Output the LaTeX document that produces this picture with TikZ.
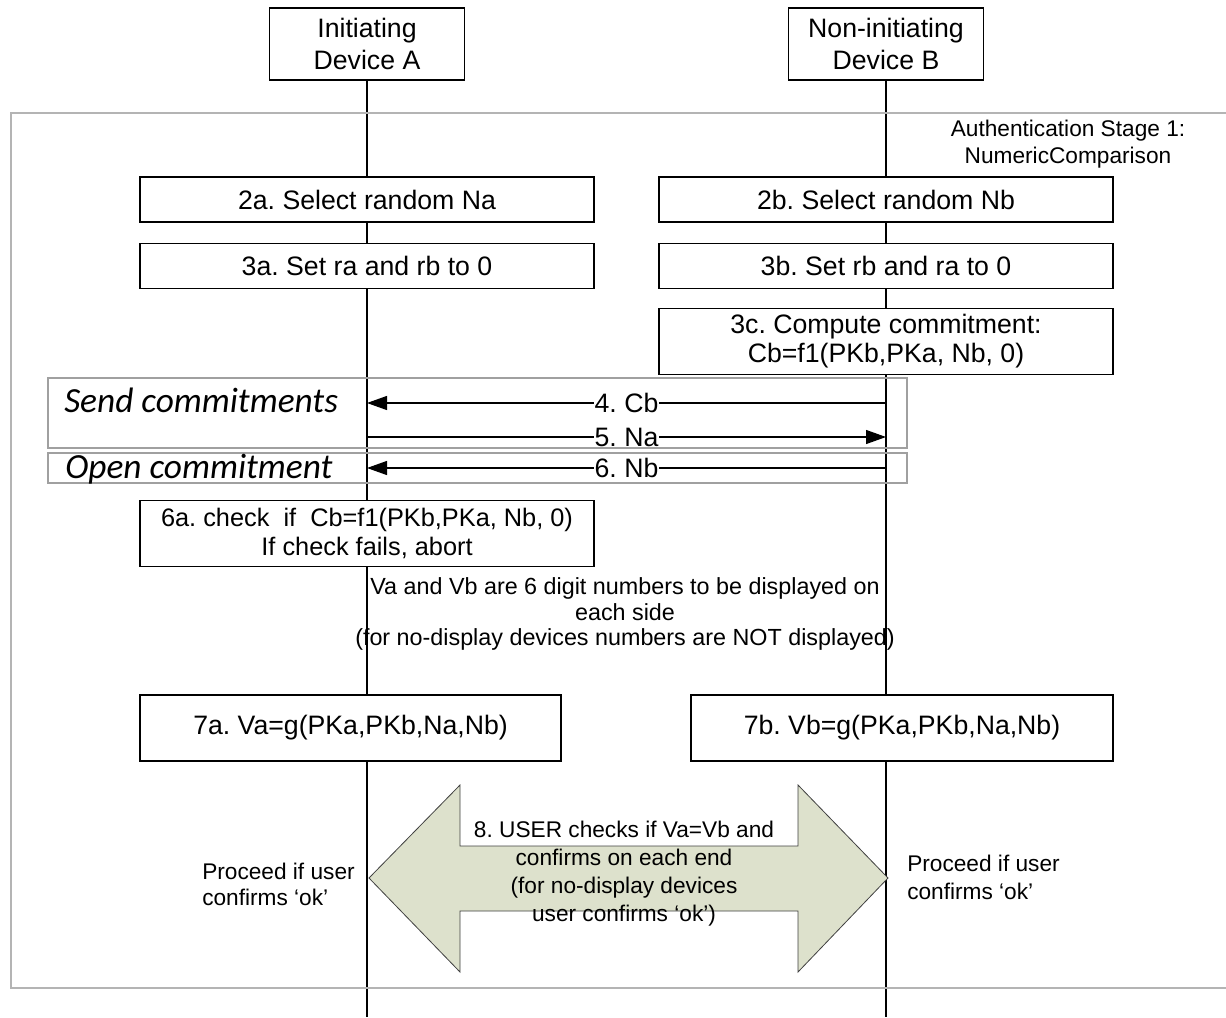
\documentclass[tikz,border=0pt]{standalone}
\usepackage{fontspec}
\setmainfont{Liberation Sans}
\newfontfamily\calloutfont{Carlito}
\usetikzlibrary{positioning,arrows.meta,backgrounds}
\frenchspacing

\definecolor{framegray}{HTML}{B4B4B4}
\definecolor{groupgray}{HTML}{A0A0A0}
\definecolor{checkfill}{HTML}{DDE1CC}

\begin{document}
\begin{tikzpicture}[
    x=0.75pt, y=-0.75pt,
    device/.style={rectangle, draw=black, line width=0.9pt, fill=white, minimum width=146pt, minimum height=54pt, inner sep=0pt, align=center, font=\fontsize{20}{24}\selectfont},
    stepbox/.style={rectangle, draw=black, line width=0.9pt, fill=white, minimum width=340.5pt, minimum height=33.75pt, inner sep=0pt, align=center, font=\fontsize{20}{21.75}\selectfont},
    tallbox/.style={stepbox, minimum height=49.5pt},
    lifeline/.style={line width=0.9pt},
    msg/.style={-{Triangle[length=15pt,width=10.5pt]}, line width=0.9pt},
    msglabel/.style={fill=white, inner xsep=0.5pt, inner ysep=0pt, font=\fontsize{20}{24}\selectfont},
    group/.style={draw=groupgray, line width=1.5pt},
    frame/.style={draw=framegray, line width=1.5pt},
    phase/.style={inner sep=0pt, font=\calloutfont\itshape\fontsize{26.5}{30}\selectfont},
    note/.style={align=center, inner sep=0pt, font=\fontsize{17.5}{19}\selectfont},
    bigarrow/.style={fill=checkfill, draw=black!75, line width=0.6pt, line join=miter},
  ]
  \useasboundingbox (0,0) rectangle (1226,1017);

  % the two devices and where their lifelines end
  \node [device] (devA) at (367,44) {Initiating\\Device A};
  \node [device] (devB) at (886,44) {Non-initiating\\Device B};
  \coordinate (endA) at (367,1017);
  \coordinate (endB) at (886,1017);

  % stage frame
  \draw [frame] (1226,112.5) -- (10.5,112.5) -- (10.5,987.5) -- (1226,987.5);
  \node [note, font=\fontsize{17}{20}\selectfont] (stage) at (1068,144) {Authentication Stage 1:\\NumericComparison};

  % local steps
  \node [stepbox] (selA) at (367,199.5) {2a. Select random Na};
  \node [stepbox, below=15pt of selA] (setA) {3a. Set ra and rb to 0};
  \node [stepbox] (selB) at (886,199.5) {2b. Select random Nb};
  \node [stepbox, below=15pt of selB] (setB) {3b. Set rb and ra to 0};
  \node [tallbox, below=14.25pt of setB] (commitB) {3c. Compute commitment:\\Cb=f1(PKb,PKa, Nb, 0)};

  % exchange
  \draw [group] (48,378) rectangle (907,448);
  \draw [group] (48,453) rectangle (907,483);
  \node [phase, anchor=base west] (sendph) at (64,412) {Send commitments};
  \node [phase, anchor=base west] (openph) at (65,478) {Open commitment};
  \foreach \n/\y in {4/403,5/437,6/468} {
    \coordinate (a\n) at (367,\y);
    \coordinate (b\n) at (886,\y);
  }
  \draw [msg] (b4) -- node [msglabel] {4. Cb} (a4);
  \draw [msg] (a5) -- node [msglabel] {5. Na} (b5);
  \draw [msg] (b6) -- node [msglabel] {6. Nb} (a6);

  \node [tallbox, font=\fontsize{19}{21.75}\selectfont] (checkA) at (367,533.5) {6a. check~~if~~Cb=f1(PKb,PKa, Nb, 0)\\If check fails, abort};
  \node [note] (digits) at (625,614) {Va and Vb are 6 digit numbers to be displayed on\\each side\\(for no-display devices numbers are NOT displayed)};

  \node [tallbox, minimum width=315.75pt] (valA) at (350.5,728) {7a. Va=g(PKa,PKb,Na,Nb)};
  \node [tallbox, minimum width=316.5pt] (valB) at (902,728) {7b. Vb=g(PKa,PKb,Na,Nb)};

  % user comparison
  \coordinate (tipA) at (369,878);
  \coordinate (tipB) at (888,878);
  \draw [bigarrow] (tipA) -- ++(91,-93) -- ++(0,61) -- (798,846) -- ++(0,-61) -- (tipB)
    -- ++(-90,94) -- ++(0,-61) -- (460,911) -- ++(0,61) -- cycle;
  \node [note, font=\fontsize{17}{21}\selectfont] (usercheck) at (624,874) {8. USER checks if Va=Vb and\\confirms on each end\\(for no-display devices\\user confirms ‘ok’)};
  \node [note, align=left, anchor=west, font=\fontsize{17}{19.5}\selectfont] (proceedA) at (202,884) {Proceed if user\\confirms ‘ok’};
  \node [note, align=left, anchor=west, font=\fontsize{17}{21}\selectfont] (proceedB) at (907,877) {Proceed if user\\confirms ‘ok’};

  \begin{scope}[on background layer]
    \draw [lifeline] (devA.south) -- (endA);
    \draw [lifeline] (devB.south) -- (endB);
  \end{scope}
\end{tikzpicture}
\end{document}
